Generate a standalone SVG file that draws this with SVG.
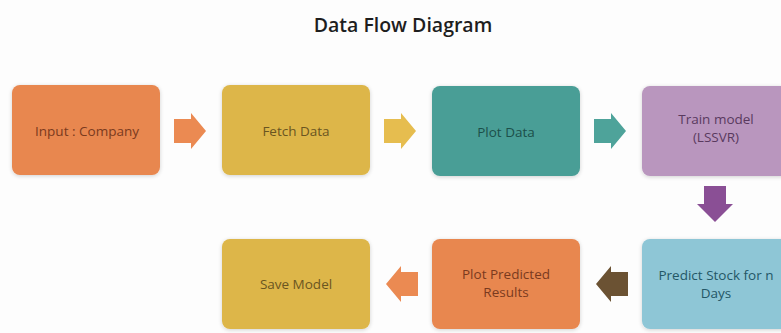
<svg xmlns="http://www.w3.org/2000/svg" width="781" height="333" viewBox="0 0 781 333">
<defs>
<style>
.box{stroke:none}
.t{font-family:"Open Sans","Noto Sans",sans-serif;font-size:13.5px;font-weight:400;text-anchor:middle}
.title{font-family:"Open Sans","Noto Sans",sans-serif;font-size:19.5px;font-weight:600;fill:#1e1e1e;text-anchor:middle}
</style>
<filter id="sh" x="-10%" y="-10%" width="120%" height="120%">
<feGaussianBlur in="SourceAlpha" stdDeviation="2"/>
<feOffset dx="0" dy="1"/>
<feComponentTransfer><feFuncA type="linear" slope="0.18"/></feComponentTransfer>
<feMerge><feMergeNode/><feMergeNode in="SourceGraphic"/></feMerge>
</filter>
</defs>
<rect width="781" height="333" fill="#fdfdfd"/>
<text class="title" x="403" y="32">Data Flow Diagram</text>

<g id="input">
<rect class="box" x="12" y="85" width="148" height="90" rx="8" fill="#e8874f" filter="url(#sh)"/>
<text class="t" x="87" y="136" fill="#7a3a1e">Input : Company</text>
</g>
<g id="fetch">
<rect class="box" x="222" y="85" width="148" height="90" rx="8" fill="#ddb648" filter="url(#sh)"/>
<text class="t" x="296" y="136" fill="#6a5521">Fetch Data</text>
</g>
<g id="plot">
<rect class="box" x="432" y="86" width="148" height="90" rx="8" fill="#4a9e96" filter="url(#sh)"/>
<text class="t" x="506" y="137" fill="#1c4f4a">Plot Data</text>
</g>
<g id="train">
<rect class="box" x="642" y="86" width="148" height="90" rx="8" fill="#b996be" filter="url(#sh)"/>
<text class="t" x="716" y="124" fill="#5a3a5e">Train model<tspan x="716" dy="18">(LSSVR)</tspan></text>
</g>
<g id="predict">
<rect class="box" x="642" y="239" width="148" height="90" rx="8" fill="#8ec6d6" filter="url(#sh)"/>
<text class="t" x="716" y="280" fill="#245766">Predict Stock for n<tspan x="716" dy="18">Days</tspan></text>
</g>
<g id="plotpred">
<rect class="box" x="432" y="239" width="148" height="90" rx="8" fill="#e8874f" filter="url(#sh)"/>
<text class="t" x="506" y="279" fill="#7a3a1e">Plot Predicted<tspan x="506" dy="18">Results</tspan></text>
</g>
<g id="save">
<rect class="box" x="222" y="239" width="148" height="90" rx="8" fill="#ddb648" filter="url(#sh)"/>
<text class="t" x="296" y="289" fill="#6a5521">Save Model</text>
</g>

<g id="connectors">
<polygon points="174,119 191,119 191,113 206,131 191,149 191,143 174,143" fill="#eb8a52"/>
<polygon points="384,119 401,119 401,113 416,131 401,149 401,143 384,143" fill="#e6bd4f"/>
<polygon points="594,119 611,119 611,113 626,131 611,149 611,143 594,143" fill="#4ea39a"/>
<polygon points="704,186 726,186 726,204 733,204 715,222 697,204 704,204" fill="#8a4f95"/>
<polygon points="628,272 611,272 611,266 596,284 611,302 611,296 628,296" fill="#6b5233"/>
<polygon points="418,272 401,272 401,266 386,284 401,302 401,296 418,296" fill="#eb8a52"/>
</g>
</svg>
